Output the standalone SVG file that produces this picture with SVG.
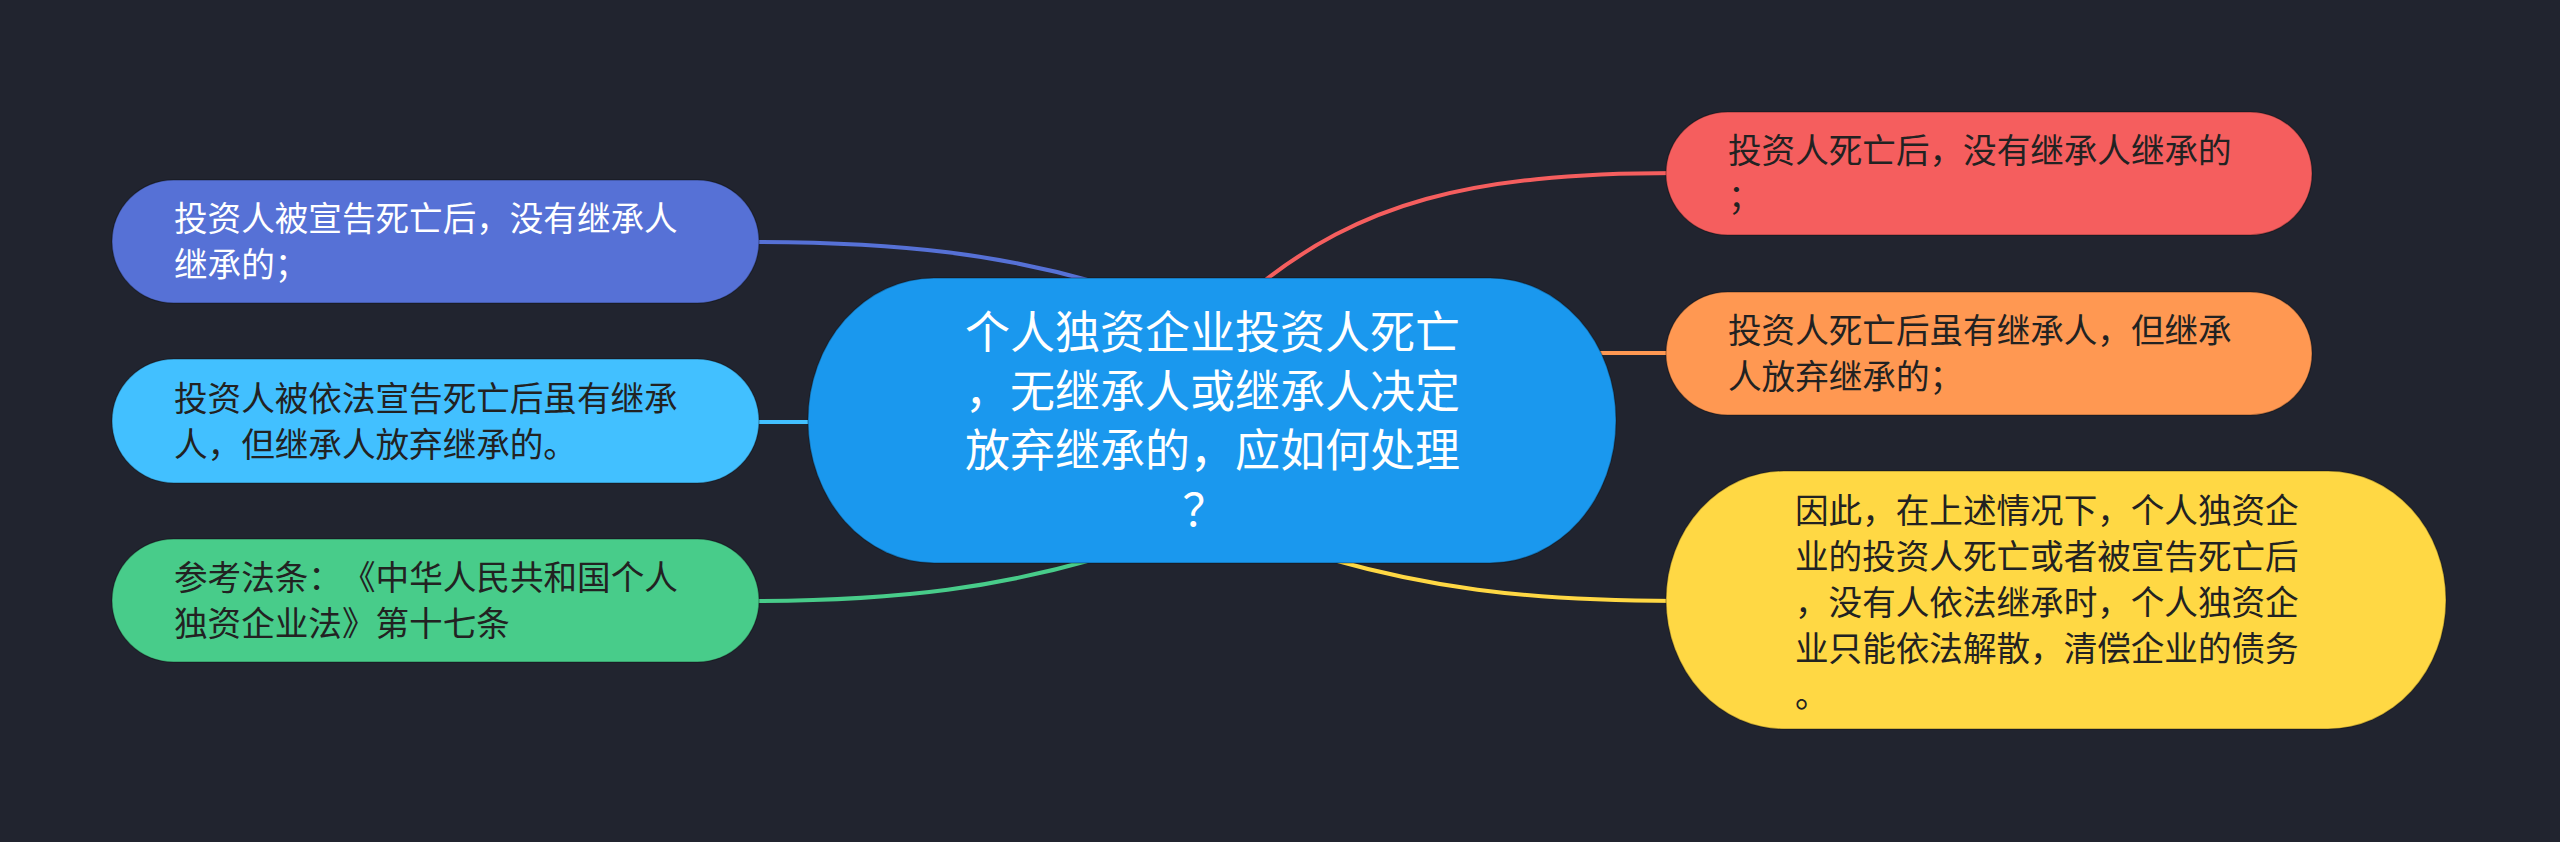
<svg xmlns="http://www.w3.org/2000/svg" width="2560" height="842" viewBox="0 0 2560 842">
<style>
.t{font-family:"Noto Sans CJK SC","Noto Sans",sans-serif;font-size:33.6px;fill:#222222;text-spacing-trim:space-all}
.w{fill:#ffffff}
.c{font-family:"Noto Sans CJK SC","Noto Sans",sans-serif;font-size:45px;fill:#ffffff;text-anchor:middle;text-spacing-trim:space-all}
.edge{fill:none;stroke-width:4;stroke-linecap:round}
.node{stroke:rgba(0,0,0,0.25);stroke-width:1.5}
</style>
<rect x="0" y="0" width="2560" height="842" fill="#21242f"/>
<g id="connectors">
<path class="edge" stroke="#5671d6" d="M1095,282 C1003,256 909,242 750,242"/>
<path class="edge" stroke="#42c0ff" d="M750,422 L830,422"/>
<path class="edge" stroke="#48cc8a" d="M1095,559 C1003,585 909,601 750,601"/>
<path class="edge" stroke="#f55e5e" d="M1255,288 C1360,204 1466,173 1676,173"/>
<path class="edge" stroke="#ff9852" d="M1580,353 L1676,353"/>
<path class="edge" stroke="#ffd844" d="M1330,559 C1422,585 1516,601 1676,601"/>
</g>
<g id="root">
<rect class="node" x="808" y="278" width="808" height="285" rx="126" ry="142" fill="#1a98ee"/>
<text class="c" x="1212.5" y="348.5">个人独资企业投资人死亡</text>
<text class="c" x="1212.5" y="408">，无继承人或继承人决定</text>
<text class="c" x="1212.5" y="467">放弃继承的，应如何处理</text>
<text class="c" x="1205" y="526.5">？</text>
</g>
<g id="n-left-1">
<rect class="node" x="112" y="180" width="647" height="123" rx="61.5" ry="61.5" fill="#5671d6"/>
<text class="t w" x="174" y="231">投资人被宣告死亡后，没有继承人</text>
<text class="t w" x="174" y="277">继承的；</text>
</g>
<g id="n-left-2">
<rect class="node" x="112" y="359" width="647" height="124" rx="62" ry="62" fill="#42c0ff"/>
<text class="t" x="174" y="410.5">投资人被依法宣告死亡后虽有继承</text>
<text class="t" x="174" y="456.5">人，但继承人放弃继承的。</text>
</g>
<g id="n-left-3">
<rect class="node" x="112" y="539" width="647" height="123" rx="61.5" ry="61.5" fill="#48cc8a"/>
<text class="t" x="174" y="590">参考法条：<tspan x="342">《中华人民共和国个人</tspan></text>
<text class="t" x="174" y="636">独资企业法》第十七条</text>
</g>
<g id="n-right-1">
<rect class="node" x="1666" y="112" width="646" height="123" rx="61.5" ry="61.5" fill="#f55e5e"/>
<text class="t" x="1728" y="163">投资人死亡后，没有继承人继承的</text>
<text class="t" x="1728" y="209">；</text>
</g>
<g id="n-right-2">
<rect class="node" x="1666" y="292" width="646" height="123" rx="61.5" ry="61.5" fill="#ff9852"/>
<text class="t" x="1728" y="343">投资人死亡后虽有继承人，但继承</text>
<text class="t" x="1728" y="389">人放弃继承的；</text>
</g>
<g id="n-right-3">
<rect class="node" x="1666" y="471" width="780" height="258" rx="118" ry="129" fill="#ffd844"/>
<text class="t" x="1795" y="522.5">因此，在上述情况下，个人独资企</text>
<text class="t" x="1795" y="568.5">业的投资人死亡或者被宣告死亡后</text>
<text class="t" x="1795" y="614.5">，没有人依法继承时，个人独资企</text>
<text class="t" x="1795" y="660.5">业只能依法解散，清偿企业的债务</text>
<text class="t" x="1795" y="706.5">。</text>
</g>
</svg>
